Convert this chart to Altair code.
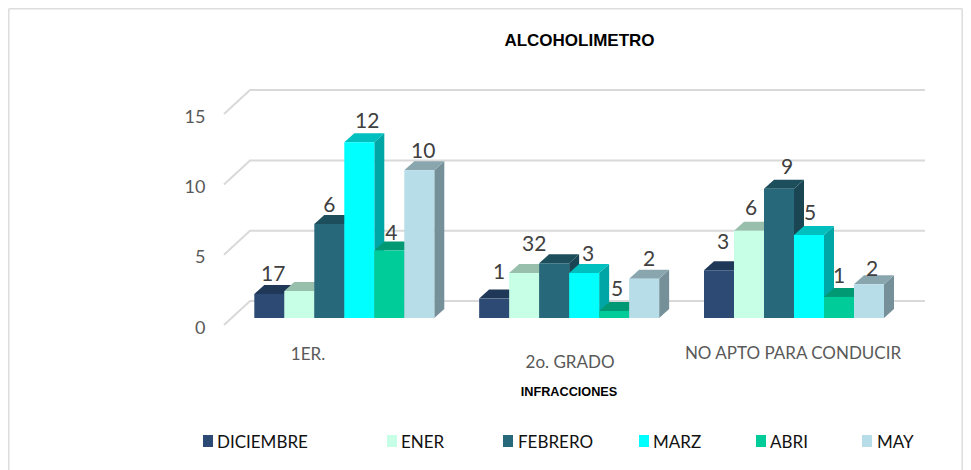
import altair as alt
import pandas as pd

GROUPS = ["1ER.", "2o. GRADO", "NO APTO PARA CONDUCIR"]
SERIES = ["DICIEMBRE", "ENER", "FEBRERO", "MARZ", "ABRI", "MAY"]
DICIEMBRE = [1.7, 1.38, 3.4]
ENER = [1.92, 3.2, 6.2]
FEBRERO = [6.69, 3.9, 9.2]
MARZ = [12.5, 3.2, 5.9]
ABRI = [4.8, 0.5, 1.5]
MAY = [10.5, 2.8, 2.4]
LABELS = [["17", "", "6", "12", "4", "10"],
          ["1", "32", "", "3", "5", "2"],
          ["3", "6", "9", "5", "1", "2"]]
VALUES = [DICIEMBRE, ENER, FEBRERO, MARZ, ABRI, MAY]
AXIS_TICKS = [0, 5, 10, 15]

FRONT = ["#2C4A73", "#C6FFE5", "#27687A", "#00FFFF", "#00CC99", "#B7DDE8"]
TOP = ["#1F3858", "#98BFAB", "#1D4E5B", "#00BFBF", "#009973", "#89A6AE"]
SIDE = ["#1A3050", "#7F9F8F", "#1A4552", "#00A5A5", "#008563", "#76909A"]
GRID = "#D9D9D9"
FONT = "Lato"

# layout (x scale runs in page pixels, y scale in value units)
W, H = 955, 462
PX = 14.06
BASE = 7 / PX          # bars stand this far above the front wall foot
DEPTH_X, DEPTH_Y = 10, 9 / PX
BACK_X0, BACK_X1, FRONT_X = 250, 925, 224
WALL_RISE = 24 / PX
BAR_W, GROUP_STEP, FIRST_X = 30, 224.85, 254.3

LABEL_DX = [[4, 0, 0, 8, 2, 4], [5, 10, 0, 4, 3, 5], [4, 2, 8, 1, 0, 3]]
LABEL_RISE = [[19, 0, 18, 20, 17, 18], [26, 28, 0, 18, 21, 19], [27, 22, 21, 21, 20, 14]]
CAT_POS = [(308, 355), (570, 363), (793, 354)]
LEGEND_SQ = [203, 387, 503, 639, 756, 862]
LEGEND_TX = [217, 401, 518, 653, 770, 877]

xs = alt.Scale(domain=[8, 8 + W], range=[0, W], zero=False, nice=False)
ys = alt.Scale(domain=[(325 - 8 - H) / PX, (325 - 8) / PX], range=[H, 0], nice=False, zero=False)
X = lambda f: alt.X(f, type="quantitative", scale=xs, axis=None)
Y = lambda f: alt.Y(f, type="quantitative", scale=ys, axis=None)


def page_y(py):
    return (325 - py) / PX


fronts, sides, tops, labels = [], [], [], []
for g in range(3):
    for s, name in enumerate(SERIES):
        v = VALUES[s][g]
        x0 = FIRST_X + g * GROUP_STEP + s * BAR_W
        x1 = x0 + BAR_W
        key = f"{g}-{s}"
        t = BASE + v
        fronts.append(dict(x=x0, x2=x1, y=BASE, y2=t, s=name))
        sides += [dict(x=x1, y=t, y2=BASE, k=key, s=name),
                  dict(x=x1 + DEPTH_X, y=t + DEPTH_Y, y2=BASE + DEPTH_Y, k=key, s=name)]
        tops += [dict(y=t, x=x0, x2=x1, k=key, s=name),
                 dict(y=t + DEPTH_Y, x=x0 + DEPTH_X, x2=x1 + DEPTH_X, k=key, s=name)]
        if LABELS[g][s]:
            labels.append(dict(x=x0 + BAR_W / 2 + LABEL_DX[g][s], y=t + LABEL_RISE[g][s] / PX, t=LABELS[g][s]))

grid = []
for tick in AXIS_TICKS:
    grid += [dict(x=FRONT_X, y=tick, k=tick, o=0),
             dict(x=BACK_X0, y=tick + WALL_RISE, k=tick, o=1),
             dict(x=BACK_X1, y=tick + WALL_RISE, k=tick, o=2)]

grid_layer = alt.Chart(pd.DataFrame(grid)).mark_line(color=GRID, strokeWidth=2).encode(
    x=X("x"),
    y=alt.Y("y", type="quantitative", scale=ys,
            axis=alt.Axis(values=AXIS_TICKS, domain=False, ticks=False, grid=False, title=None,
                          labelFont=FONT, labelFontSize=18, labelColor="#595959",
                          labelPadding=0, offset=-197, labelOffset=3)),
    detail="k:N", order="o:Q")


def colour(rng):
    return alt.Color("s:N", scale=alt.Scale(domain=SERIES, range=rng), legend=None)


side_layer = alt.Chart(pd.DataFrame(sides)).mark_area(opacity=1).encode(
    x=X("x"), y=Y("y"), y2="y2", detail="k:N", color=colour(SIDE))
top_layer = alt.Chart(pd.DataFrame(tops)).mark_area(orient="horizontal", opacity=1).encode(
    y=Y("y"), x=X("x"), x2="x2", detail="k:N", color=colour(TOP))
front_layer = alt.Chart(pd.DataFrame(fronts)).mark_rect().encode(
    x=X("x"), x2="x2", y=Y("y"), y2="y2", color=colour(FRONT))
label_layer = alt.Chart(pd.DataFrame(labels)).mark_text(
    font=FONT, fontSize=21, color="#404040", baseline="middle").encode(x=X("x"), y=Y("y"), text="t:N")

cat_df = pd.DataFrame([dict(x=p[0], y=page_y(p[1]), t=g) for g, p in zip(GROUPS, CAT_POS)])
cat_layer = alt.Chart(cat_df).mark_text(
    font=FONT, fontSize=17, color="#595959", baseline="middle").encode(x=X("x"), y=Y("y"), text="t:N")

titles = pd.DataFrame([dict(x=579.5, y=page_y(41), t="ALCOHOLIMETRO", z=17),
                       dict(x=569, y=page_y(392), t="INFRACCIONES", z=12.7)])
title_layer = alt.Chart(titles).mark_text(
    font="Liberation Sans", fontWeight="bold", color="#000000", baseline="middle").encode(
    x=X("x"), y=Y("y"), text="t:N", size=alt.Size("z:Q", scale=None, legend=None))

leg_sq = pd.DataFrame([dict(x=a, x2=a + 10, y=page_y(447), y2=page_y(435), s=n) for a, n in zip(LEGEND_SQ, SERIES)])
leg_sq_layer = alt.Chart(leg_sq).mark_rect().encode(
    x=X("x"), x2="x2", y=Y("y"), y2="y2", color=colour(FRONT))
leg_tx = pd.DataFrame([dict(x=a, y=page_y(443), t=n) for a, n in zip(LEGEND_TX, SERIES)])
leg_tx_layer = alt.Chart(leg_tx).mark_text(
    font=FONT, fontSize=17, color="#111111", align="left", baseline="middle").encode(
    x=X("x"), y=Y("y"), text="t:N")

border = pd.DataFrame([dict(x=8.8, x2=8.8, y=page_y(8.8), y2=page_y(470)),
                       dict(x=8.8, x2=962.2, y=page_y(8.8), y2=page_y(8.8)),
                       dict(x=962.2, x2=962.2, y=page_y(8.8), y2=page_y(470))])
border_layer = alt.Chart(border).mark_rule(color="#DDDDDD", strokeWidth=1.5).encode(
    x=X("x"), x2="x2", y=Y("y"), y2="y2")

chart = alt.layer(grid_layer, border_layer, side_layer, top_layer, front_layer, label_layer,
                  cat_layer, title_layer, leg_sq_layer, leg_tx_layer).resolve_scale(
    color="independent").resolve_axis(y="independent").properties(
    width=W, height=H, padding=0, autosize=alt.AutoSizeParams(type="none"),
    background="white").configure_view(stroke=None)

chart.save("out.html", embed_options={"renderer": "svg", "actions": False})
